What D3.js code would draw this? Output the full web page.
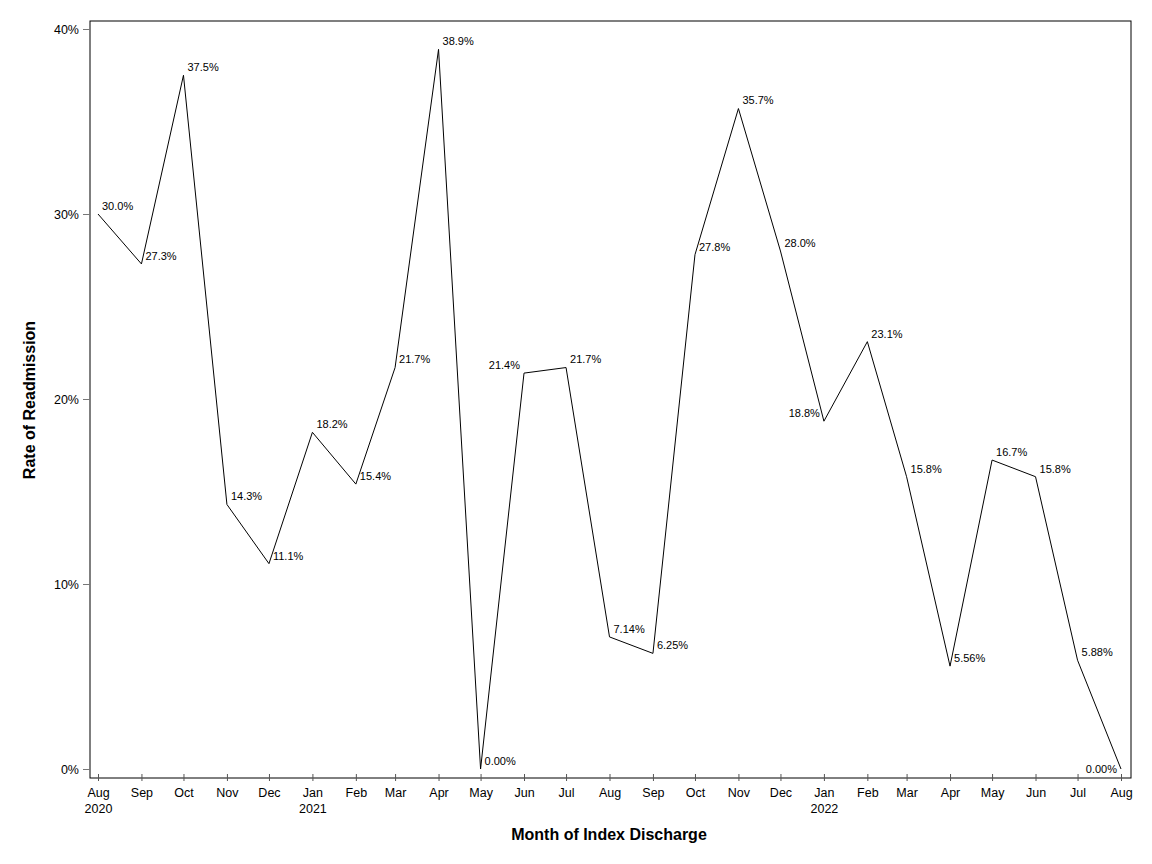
<!DOCTYPE html>
<html>
<head>
<meta charset="utf-8">
<script src="https://cdn.jsdelivr.net/npm/d3@7"></script>
<style>
  body { margin: 0; background: #fff; }
  svg { display: block; font-family: "Liberation Sans", Arial, sans-serif; }
</style>
</head>
<body>
<div id="chart"></div>
<script>
// Monthly readmission rate, Aug 2020 .. Aug 2022
const months = [
  "2020-08", "2020-09", "2020-10", "2020-11", "2020-12",
  "2021-01", "2021-02", "2021-03", "2021-04", "2021-05", "2021-06", "2021-07",
  "2021-08", "2021-09", "2021-10", "2021-11", "2021-12",
  "2022-01", "2022-02", "2022-03", "2022-04", "2022-05", "2022-06", "2022-07", "2022-08"
];
const rates = [
  0.300, 0.273, 0.375, 0.143, 0.111,
  0.182, 0.154, 0.217, 0.389, 0.000, 0.214, 0.217,
  0.0714, 0.0625, 0.278, 0.357, 0.280,
  0.188, 0.231, 0.158, 0.0556, 0.167, 0.158, 0.0588, 0.000
];
const rateLabels = [
  "30.0%", "27.3%", "37.5%", "14.3%", "11.1%",
  "18.2%", "15.4%", "21.7%", "38.9%", "0.00%", "21.4%", "21.7%",
  "7.14%", "6.25%", "27.8%", "35.7%", "28.0%",
  "18.8%", "23.1%", "15.8%", "5.56%", "16.7%", "15.8%", "5.88%", "0.00%"
];
// which side of the point each label sits on
const labelSide = [
  "r", "r", "r", "r", "r",
  "r", "r", "r", "r", "r", "l", "r",
  "r", "r", "r", "r", "r",
  "l", "r", "r", "r", "r", "r", "r", "ll"
];
const yTicks = [0, 0.1, 0.2, 0.3, 0.4];

const width = 1152;
const height = 864;
const frame = { left: 90, right: 1131, top: 21, bottom: 778 };

const parseMonth = d3.timeParse("%Y-%m");
const data = months.map((m, i) => ({
  date: parseMonth(m),
  rate: rates[i],
  label: rateLabels[i],
  side: labelSide[i]
}));

const x = d3.scaleTime()
  .domain(d3.extent(data, (d) => d.date))
  .range([98, 1121]);

const y = d3.scaleLinear()
  .domain([0, 0.4])
  .range([769, 29]);

const svg = d3.select("#chart").append("svg")
  .attr("width", width)
  .attr("height", height);

// frame
svg.append("rect")
  .attr("x", frame.left)
  .attr("y", frame.top)
  .attr("width", frame.right - frame.left)
  .attr("height", frame.bottom - frame.top)
  .attr("fill", "none")
  .attr("stroke", "#000")
  .attr("stroke-width", 1);

// y axis
const yAxis = svg.append("g")
  .attr("transform", `translate(${frame.left},0)`)
  .call(d3.axisLeft(y).tickValues(yTicks).tickFormat(d3.format(".0%")).tickSize(7).tickPadding(4));
yAxis.select(".domain").remove();
yAxis.selectAll(".tick line").attr("stroke", "#777");
yAxis.selectAll(".tick text")
  .attr("font-size", 12.5)
  .attr("fill", "#000")
  .attr("font-family", "Liberation Sans, Arial, sans-serif");

// x axis
const xAxis = svg.append("g")
  .attr("transform", `translate(0,${frame.bottom})`)
  .call(d3.axisBottom(x).tickValues(data.map((d) => d.date)).tickSizeInner(3).tickSizeOuter(0).tickFormat(""));
xAxis.select(".domain").remove();
xAxis.selectAll(".tick line")
  .attr("y1", -4)
  .attr("y2", 3)
  .attr("stroke", "#555");

const monthFmt = d3.timeFormat("%b");
const yearFmt = d3.timeFormat("%Y");
xAxis.selectAll(".tick").each(function (d, i) {
  const t = d3.select(this).select("text")
    .attr("y", 0)
    .attr("dy", null)
    .attr("font-size", 12.5)
    .attr("fill", "#000")
    .attr("font-family", "Liberation Sans, Arial, sans-serif");
  t.append("tspan").attr("x", 0).attr("y", 19).text(monthFmt(d));
  if (i === 0 || d.getMonth() === 0) {
    t.append("tspan").attr("x", 0).attr("y", 35).text(yearFmt(d));
  }
});

// line
svg.append("path")
  .datum(data)
  .attr("fill", "none")
  .attr("stroke", "#000")
  .attr("stroke-width", 1)
  .attr("d", d3.line().x((d) => x(d.date)).y((d) => y(d.rate)));

// point labels
svg.append("g")
  .selectAll("text")
  .data(data)
  .join("text")
  .attr("x", (d) => x(d.date) + (d.side === "r" ? 4 : -4))
  .attr("y", (d) => y(d.rate) + (d.side === "ll" ? 0 : -8))
  .attr("dy", "0.35em")
  .attr("text-anchor", (d) => d.side === "r" ? "start" : "end")
  .attr("font-size", 11)
  .attr("fill", "#000")
  .text((d) => d.label);

// axis titles
svg.append("text")
  .attr("x", 609)
  .attr("y", 840)
  .attr("text-anchor", "middle")
  .attr("font-size", 16)
  .attr("font-weight", "bold")
  .text("Month of Index Discharge");

svg.append("text")
  .attr("transform", `translate(35,400) rotate(-90)`)
  .attr("text-anchor", "middle")
  .attr("font-size", 16)
  .attr("font-weight", "bold")
  .text("Rate of Readmission");
</script>
</body>
</html>
